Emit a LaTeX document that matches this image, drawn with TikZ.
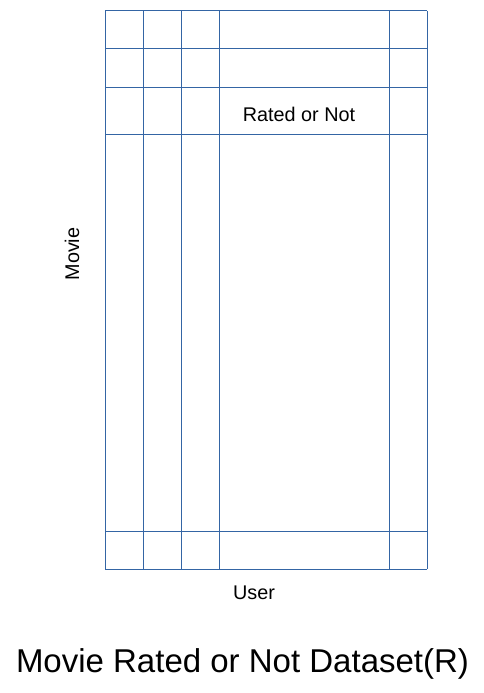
\documentclass[tikz,border=0pt]{standalone}
\usepackage{fontspec}
\setmainfont{Liberation Sans}
\definecolor{gridblue}{HTML}{3465A4}
\begin{document}
\begin{tikzpicture}[x=1pt,y=-1pt,
  gridline/.style={draw=gridblue,line width=1pt},
  lbl/.style={inner sep=0pt,font=\fontsize{19.8}{23}\selectfont}]
\useasboundingbox (0,0) rectangle (484,693);
\foreach \x in {105,143,181,219,389,427} \draw[gridline] (\x,11) -- (\x,569);
\foreach \y in {11,49,87,134,531,569} \draw[gridline] (105,\y) -- (427,\y);
\node[lbl] (rated) at (299,114) {Rated or Not};
\node[lbl,rotate=90] (movie) at (72,254) {Movie};
\node[lbl] (user) at (254,593) {User};
\node[inner sep=0pt,font=\fontsize{33}{38}\selectfont] (title) at (242.5,664) {Movie Rated or Not Dataset(R)};
\end{tikzpicture}
\end{document}
